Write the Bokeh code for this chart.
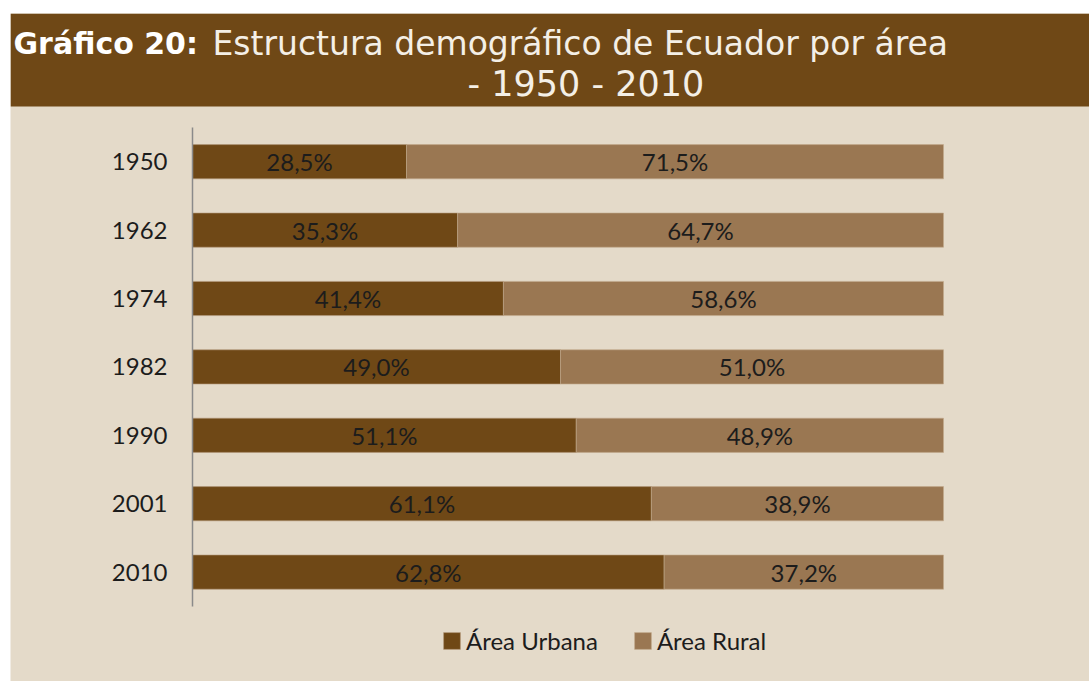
from bokeh.plotting import figure
from bokeh.models import (ColumnDataSource, Legend, LegendItem, Label, Spacer,
                          Range1d, FixedTicker, BoxAnnotation)
from bokeh.layouts import column, row
from bokeh.core.properties import value
from bokeh.embed import file_html
from bokeh.resources import INLINE

# ---- data ----
years = ["1950", "1962", "1974", "1982", "1990", "2001", "2010"]
urbana = [28.5, 35.3, 41.4, 49.0, 51.1, 61.1, 62.8]
rural = [71.5, 64.7, 58.6, 51.0, 48.9, 38.9, 37.2]
series_names = ["Área Urbana", "Área Rural"]
title_bold = "Gráfico 20:"
title_rest = "Estructura demográfico de Ecuador por área"
title_line2 = "- 1950 - 2010"

BROWN = "#6f4816"
RURAL = "#9a7752"
BEIGE = "#e4dac9"
TXT = "#1c1c1c"
FONT = "Lato"


def fmt(v):
    return f"{v:.1f}".replace(".", ",") + "%"


idx = list(range(len(years)))
src = ColumnDataSource(dict(
    pos=idx,
    year=years,
    urbana=urbana,
    rural=rural,
    total=[u + r for u, r in zip(urbana, rural)],
    u_mid=[u / 2 for u in urbana],
    r_mid=[u + r / 2 for u, r in zip(urbana, rural)],
    u_lab=[fmt(u) for u in urbana],
    r_lab=[fmt(r) for r in rural],
))

W, H = 1079, 668
PX_PER_PCT = 7.51       # horizontal scale
PX_PER_ROW = 68.4       # vertical scale
X0 = 182                # screen x of 0 %
Y0 = 148.2              # screen y (from top) of first row

p = figure(width=W, height=H,
           x_range=Range1d(-X0 / PX_PER_PCT, (W - X0) / PX_PER_PCT),
           y_range=Range1d((H - Y0) / PX_PER_ROW, -Y0 / PX_PER_ROW),
           x_axis_location=None,
           toolbar_location=None, output_backend="svg",
           min_border=0, outline_line_color=None,
           background_fill_color=BEIGE, border_fill_color=BEIGE)
p.grid.visible = False

# header band
p.add_layout(BoxAnnotation(bottom=H - 93, bottom_units="screen",
                           fill_color=BROWN, fill_alpha=1.0,
                           line_color=None, level="underlay"))

r_u = p.hbar(y="pos", left=0, right="urbana", height=0.5, source=src,
             fill_color=BROWN, line_color="#b49a7c", line_alpha=0.6,
             line_width=1)
r_r = p.hbar(y="pos", left="urbana", right="total", height=0.5, source=src,
             fill_color=RURAL, line_color="#c2aa8c", line_alpha=0.6,
             line_width=1)

p.text(x="u_mid", y="pos", text="u_lab", source=src,
       text_font=value(FONT), text_font_size="24px", text_color=TXT,
       text_align="center", text_baseline="middle")
p.text(x="r_mid", y="pos", text="r_lab", source=src,
       text_font=value(FONT), text_font_size="24px", text_color=TXT,
       text_align="center", text_baseline="middle")

ax = p.yaxis[0]
ax.fixed_location = 0
ax.ticker = FixedTicker(ticks=idx)
ax.major_label_overrides = {i: y for i, y in zip(idx, years)}
ax.bounds = (idx[0] - 0.5, idx[-1] + 0.5)
ax.axis_line_color = "#8a8a8a"
ax.axis_line_width = 1.5
ax.major_tick_line_color = None
ax.minor_tick_line_color = None
ax.major_tick_out = 0
ax.major_tick_in = 0
ax.major_label_standoff = 25
ax.major_label_text_font = FONT
ax.major_label_text_font_size = "24px"
ax.major_label_text_color = TXT

# header texts
p.add_layout(Label(x=3, y=H - 30, x_units="screen", y_units="screen",
                   text=title_bold, text_font="DejaVu Sans",
                   text_font_style="bold", text_font_size="30px",
                   text_color="white", text_baseline="alphabetic"))
p.add_layout(Label(x=202, y=H - 30, x_units="screen", y_units="screen",
                   text=title_rest, text_font="DejaVu Sans",
                   text_font_size="33px", text_color="#f4efe6",
                   text_baseline="alphabetic"))
p.add_layout(Label(x=457, y=H - 70, x_units="screen", y_units="screen",
                   text=title_line2, text_font="DejaVu Sans",
                   text_font_size="35px", text_color="#f4efe6",
                   text_baseline="alphabetic"))

legend = Legend(items=[LegendItem(label=series_names[0], renderers=[r_u]),
                       LegendItem(label=series_names[1], renderers=[r_r])],
                orientation="horizontal", location=(431, 26),
                background_fill_alpha=0, border_line_color=None,
                padding=0, margin=0, spacing=34,
                glyph_width=21, glyph_height=21, label_standoff=4,
                label_text_font=FONT, label_text_font_size="24px",
                label_text_color=TXT)
p.add_layout(legend, "center")

layout = column(Spacer(height=13), row(Spacer(width=10), p, spacing=0),
                spacing=0)

open("out.html", "w").write(file_html(layout, INLINE))
